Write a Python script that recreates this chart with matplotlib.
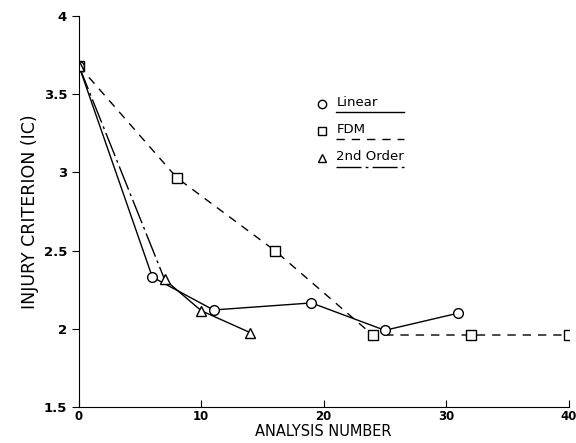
import matplotlib
matplotlib.use("Agg")
import matplotlib.pyplot as plt

# Linear
lin_x = [0, 6, 11, 19, 25, 31]
lin_y = [3.68, 2.33, 2.12, 2.165, 1.99, 2.10]

# FDM
fdm_x = [0, 8, 16, 24, 32, 40]
fdm_y = [3.68, 2.965, 2.50, 1.96, 1.96, 1.96]

# 2nd order
sec_x = [0, 7, 10, 14]
sec_y = [3.68, 2.315, 2.115, 1.975]

x_ticks = [0, 10, 20, 30, 40]
y_ticks = [1.5, 2, 2.5, 3, 3.5, 4]
y_tick_labels = ["1.5", "2", "2.5", "3", "3.5", "4"]

plt.rcParams["font.family"] = ["DejaVu Sans"]

fig = plt.figure(figsize=(5.76, 4.43), dpi=100)
ax = fig.add_axes([0.137, 0.0813, 0.850, 0.883])

ms = 7
mk = dict(markerfacecolor="white", markeredgecolor="black", markeredgewidth=1.0,
          markersize=ms, color="black", linewidth=1.0)
dashdot = (0, (18, 3, 2, 3))
dashed = (0, (6, 5))

ax.plot(fdm_x, fdm_y, linestyle=dashed, marker="s", **mk)
ax.plot(lin_x, lin_y, linestyle="-", marker="o", **mk)
# first segment dash-dot, rest solid as in original
ax.plot(sec_x[:2], sec_y[:2], linestyle=dashdot, color="black", linewidth=1.0)
ax.plot(sec_x[1:], sec_y[1:], linestyle="-", color="black", linewidth=1.0)
ax.plot(sec_x, sec_y, linestyle="none", marker="^", **mk)

ax.set_xlim(0, 40)
ax.set_ylim(1.5, 4)
ax.set_xticks(x_ticks)
ax.set_yticks(y_ticks)
ax.set_yticklabels(y_tick_labels)
ax.spines[["top", "right"]].set_visible(False)
ax.tick_params(axis="x", direction="in", length=5, labelsize=8.5, pad=2)
ax.tick_params(axis="y", direction="out", length=5, labelsize=9.5)
for lab in ax.get_xticklabels() + ax.get_yticklabels():
    lab.set_fontweight("bold")
ax.set_xlabel("ANALYSIS NUMBER", fontsize=10.5, labelpad=1)
ax.set_ylabel("INJURY CRITERION (IC)", fontsize=12.5, labelpad=3)

# legend drawn by hand: marker, label, underline line sample
entries = [("o", "Linear", "-", 0.775),
           ("s", "FDM", dashed, 0.706),
           ("^", "2nd Order", dashdot, 0.636)]
for m, label, ls, yy in entries:
    ax.plot([0.496], [yy], marker=m, linestyle="none", transform=ax.transAxes,
            markerfacecolor="white", markeredgecolor="black", markersize=6,
            clip_on=False)
    ax.text(0.526, yy + 0.004, label, transform=ax.transAxes, fontsize=9.5,
            va="center", ha="left")
    ax.plot([0.526, 0.663], [yy - 0.022, yy - 0.022], linestyle=ls,
            color="black", linewidth=1.0, transform=ax.transAxes, clip_on=False)

fig.savefig("out.png", dpi=100)
